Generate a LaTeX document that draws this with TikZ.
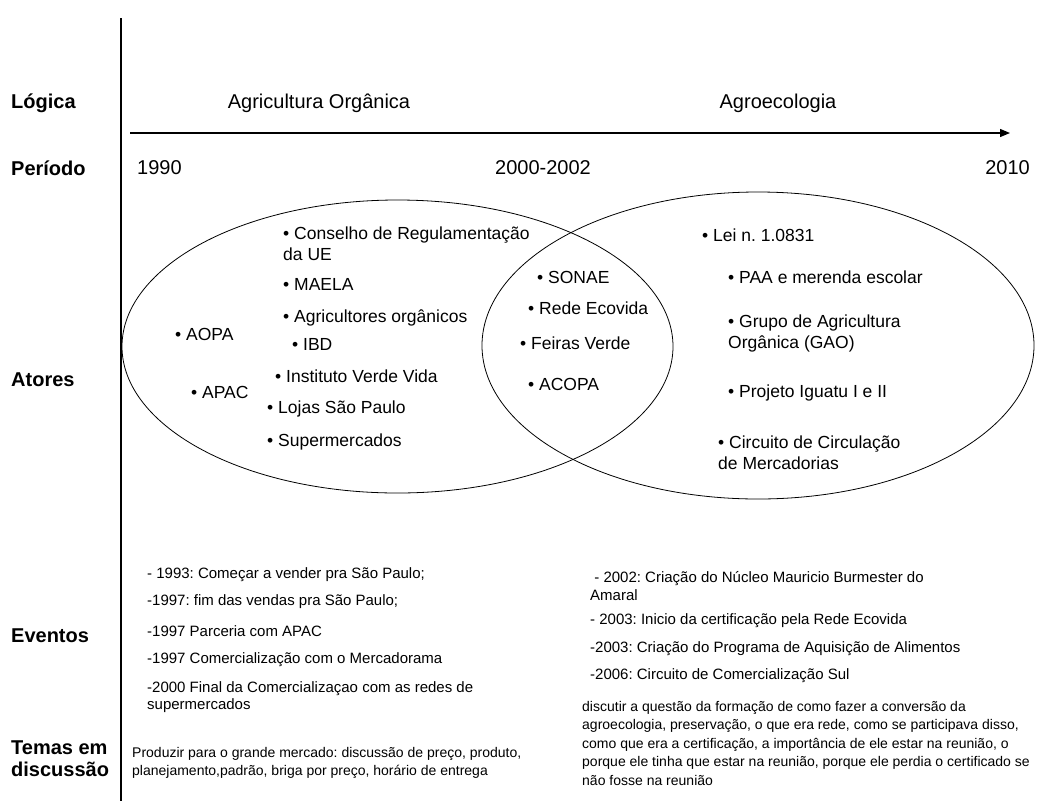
\documentclass[tikz,border=0pt]{standalone}
\usepackage{fontspec}
\setmainfont{Liberation Sans}
\usetikzlibrary{arrows.meta}
\frenchspacing

\begin{document}
\begin{tikzpicture}[x = 1pt, y = -1pt,
	every node/.style = {inner sep = 0pt, anchor = west, align = left},
	heading/.style = {font = \fontsize{20}{22}\selectfont\bfseries},
	logic/.style = {font = \fontsize{20}{22}\selectfont},
	actor/.style = {font = \fontsize{17.5}{21}\selectfont},
	event/.style = {font = \fontsize{15}{17.5}\selectfont},
	theme/.style = {font = \fontsize{14}{18.5}\selectfont}]

	\useasboundingbox (0, 0) rectangle (1047, 801);

	% Row headings and separator
	
	\node [heading] (logica) at (11, 103) {Lógica};
	\node [heading] (periodo) at (11, 168) {Período};
	\node [heading] (atores) at (11, 380) {Atores};
	\node [heading] (eventos) at (11, 636) {Eventos};
	\node [heading] (temas) at (11, 759) {Temas em\\discussão};
	
	\coordinate (sep top) at (121, 18);
	\coordinate (sep bottom) at (121, 801);
	\draw [line width = 2pt] (sep top) -- (sep bottom);
	
	% Time line
	
	\node [logic, anchor = center] (organica) at (319, 103) {Agricultura Orgânica};
	\node [logic, anchor = center] (agroeco) at (778, 103) {Agroecologia};
	
	\coordinate (time start) at (130, 133);
	\coordinate (time end) at (1010, 133);
	\draw [line width = 1.3pt, -{Triangle[length = 10pt, width = 8pt]}] (time start) -- (time end);
	
	\node [logic] (y1990) at (137, 168) {1990};
	\node [logic, anchor = center] (y2000) at (543, 168) {2000-2002};
	\node [logic, anchor = east] (y2010) at (1030, 168) {2010};
	
	% Actors
	
	\draw [line width = 0.8pt] (397.5, 346.5) ellipse [x radius = 275.5pt, y radius = 146.5pt];
	\draw [line width = 0.8pt] (758, 345.5) ellipse [x radius = 276pt, y radius = 153.5pt];
	
	\begin{scope}[actor]
	
		\node (conselho) at (283, 244) {• Conselho de Regulamentação\\da UE};
		\node (maela) at (283, 284) {• MAELA};
		\node (agricultores) at (283, 318) {• Agricultores orgânicos};
		\node (ibd) at (292, 344) {• IBD};
		\node (aopa) at (175, 334) {• AOPA};
		\node (instituto) at (275, 376) {• Instituto Verde Vida};
		\node (apac) at (191, 392) {• APAC};
		\node (lojas) at (267, 409) {• Lojas São Paulo};
		\node (super) at (267, 442) {• Supermercados};
		
		\node (sonae) at (537, 277) {• SONAE};
		\node (ecovida) at (528, 308) {• Rede Ecovida};
		\node (feiras) at (520, 343) {• Feiras Verde};
		\node (acopa) at (528, 384) {• ACOPA};
		
		\node (lei) at (702, 235) {• Lei n. 1.0831};
		\node (paa) at (728, 277) {• PAA e merenda escolar};
		\node (gao) at (728, 333) {• Grupo de Agricultura\\Orgânica (GAO)};
		\node (iguatu) at (728, 393) {• Projeto Iguatu I e II};
		\node (circuito) at (718, 453) {• Circuito de Circulação\\de Mercadorias};
	
	\end{scope}
	
	% Events
	
	\begin{scope}[event]
	
		\node (e1993) at (147, 575) {- 1993: Começar a vender pra São Paulo;};
		\node (e1997a) at (147, 602) {-1997: fim das vendas pra São Paulo;};
		\node (e1997b) at (147, 631) {-1997 Parceria com APAC};
		\node (e1997c) at (147, 660) {-1997 Comercialização com o Mercadorama};
		\node (e2000) at (147, 697) {-2000 Final da Comercializaçao com as redes de\\supermercados};
		
		\node (e2002) at (590, 586) {\ - 2002: Criação do Núcleo Mauricio Burmester do\\Amaral};
		\node (e2003a) at (590, 621) {- 2003: Inicio da certificação pela Rede Ecovida};
		\node (e2003b) at (590, 649) {-2003: Criação do Programa de Aquisição de Alimentos};
		\node (e2006) at (590, 676) {-2006: Circuito de Comercialização Sul};
	
	\end{scope}
	
	% Themes
	
	\node [theme] (mercado) at (132, 763) {Produzir para o grande mercado: discussão de preço, produto,\\planejamento,padrão, briga por preço, horário de entrega};
	\node [theme] (conversao) at (582, 743) {discutir a questão da formação de como fazer a conversão da\\agroecologia, preservação, o que era rede, como se participava disso,\\como que era a certificação, a importância de ele estar na reunião, o\\porque ele tinha que estar na reunião, porque ele perdia o certificado se\\não fosse na reunião};
	
\end{tikzpicture}
\end{document}
